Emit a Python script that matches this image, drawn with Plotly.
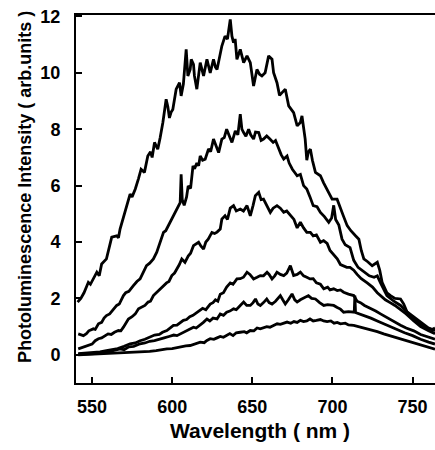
import plotly.graph_objects as go

# Curve 1 (highest)
wl1 = [541, 543, 545, 547.7, 549, 550.8, 553, 554.5, 556, 559, 561, 562.3, 565.4, 566.5, 567.5, 569.5, 571.7,
       573.75, 575, 577, 579, 580.6, 582.7, 584.8, 586.5, 587.5, 589, 591, 592.5, 594.2, 596.25, 597.3, 598.3,
       599.3, 600.4, 602.5, 604.6, 605.6, 607, 608.75, 609.8, 611.25, 611.9, 613.3, 613.9, 615.4, 617.5, 619.6,
       621.7, 623.75, 625.8, 627, 628, 629.5, 631, 633, 634.5, 636.25, 637.3, 638.3, 639.3, 640.4, 642.5, 644.6,
       646.7, 648.75, 650.8, 652.9, 654.5, 656, 658, 660.2, 662.3, 663.3, 665.4, 667, 668.5, 670.6, 672.7, 675.8,
       678, 680, 681, 683, 684, 685, 686.25, 687.5, 689.4, 692.5, 694.5, 696.7, 698, 699.8, 702.9, 705, 707,
       709.2, 711.5, 714.4, 716.5, 718, 719.6, 722, 724.8, 728, 729.5, 731, 734, 736.25, 739, 742.5, 744.5,
       746.7, 750, 753, 756, 759, 762, 764]
pl1 = [1.87, 2.0, 2.2, 2.57, 2.5, 2.69, 2.93, 2.8, 3.22, 3.4, 3.87, 4.17, 4.22, 4.15, 4.46, 4.85, 5.29,
       5.7, 5.6, 5.88, 6.25, 6.58, 6.47, 7.05, 7.2, 7.0, 7.53, 7.29, 7.7, 8.24, 9.06, 8.8, 8.4,
       8.6, 8.7, 9.42, 9.65, 9.18, 9.6, 10.83, 9.89, 10.12, 10.48, 10.3, 9.89, 9.42, 10.36, 9.89,
       10.48, 10.0, 10.48, 10.2, 10.12, 10.5, 10.95, 11.3, 11.2, 11.89, 11.3, 11.07, 11.2, 10.48, 10.83, 10.36,
       10.6, 10.36, 9.53, 10.12, 9.95, 9.89, 10.0, 10.6, 10.48, 10.0, 9.65, 9.2, 9.3, 9.42, 8.83, 8.59,
       8.12, 8.24, 8.47, 7.65, 6.9, 7.2, 7.29, 6.9, 6.47, 6.35, 6.1, 5.88, 5.7, 5.52, 5.52, 5.17, 4.9,
       4.58, 4.4, 4.22, 4.1, 3.7, 3.4, 3.3, 3.16, 3.28, 3.0, 2.57, 2.2, 2.1, 2.0, 1.98, 1.8,
       1.5, 1.3, 1.16, 1.05, 0.95, 0.9, 0.95]

# Curve 2
wl2 = [541.4, 543, 544.6, 546.5, 548, 550.8, 552, 554, 556, 557.5, 559, 561, 563, 565.4, 567, 569.6, 571, 573,
       575.8, 578, 580, 582, 584, 586, 588.3, 590.4, 592.5, 594.6, 596, 597.7, 599, 600.8, 602.5, 604, 605,
       605.6, 606.3, 607.5, 609, 610, 611.5, 613, 614, 615.4, 616.5, 617.5, 619, 620.6, 622.7, 624, 625.8,
       627.5, 629, 631, 632.5, 634, 635.5, 637.3, 639.4, 641, 642.5, 643.5, 644.6, 646, 647.7, 649, 650.8,
       652, 654, 655.5, 657, 659, 661, 663, 664.5, 666.5, 668, 669.6, 671.7, 673, 675, 678, 680, 682, 684,
       686, 688, 690.4, 692.5, 695, 697.7, 699.5, 700.8, 702, 704, 706, 708, 711, 713.3, 716, 719.6, 723,
       726, 728, 730, 734, 738.3, 742.5, 746, 750.8, 755, 760, 764]
pl2 = [0.74, 0.7, 0.68, 0.75, 0.85, 0.92, 0.9, 1.1, 1.15, 1.3, 1.39, 1.45, 1.6, 1.75, 1.8, 2.1, 2.2, 2.25,
       2.45, 2.6, 2.69, 2.9, 3.16, 3.25, 3.4, 3.64, 3.99, 4.34, 4.4, 4.58, 4.75, 4.93, 5.1, 5.25, 5.4,
       6.4, 5.5, 5.3, 5.6, 5.99, 5.9, 6.7, 6.6, 6.8, 6.7, 7.05, 6.9, 6.94, 7.3, 7.2, 7.65,
       7.4, 7.17, 7.65, 7.7, 8.0, 7.8, 7.53, 7.94, 7.8, 8.53, 8.0, 7.88, 7.75, 8.0, 7.8, 7.65,
       7.9, 7.88, 7.6, 7.65, 7.76, 7.65, 7.53, 7.6, 7.3, 7.1, 6.94, 7.05, 6.8, 6.58, 6.35, 6.4, 6.0, 5.88,
       5.6, 5.29, 5.25, 5.05, 4.9, 4.7, 4.85, 5.3, 4.8, 4.6, 4.1, 3.9, 3.8, 3.35, 3.1, 2.95, 2.8,
       2.75, 2.8, 2.55, 2.1, 1.9, 1.75, 1.55, 1.35, 1.15, 0.95, 0.85]

# Curve 3
wl3 = [541.4, 544, 547.7, 550, 552, 554, 556, 558, 560, 562, 564, 566.5, 568, 569.6, 571, 572.7, 575, 577,
       579, 581, 583, 585, 586.5, 588.3, 590, 592, 594.6, 596.5, 598, 599.8, 601.5, 603, 604.5, 606, 608,
       610, 611.5, 613.3, 615, 616.5, 618, 619.6, 621, 622.5, 624.8, 626.5, 628, 630, 631, 633, 634.5,
       636.25, 638.3, 640, 642.5, 644.5, 646.7, 648.75, 650.5, 651.9, 654, 655.5, 657, 659, 661.25, 663,
       665.4, 667.5, 669.6, 671.5, 673.75, 676, 678, 680, 682, 684, 686.25, 688, 690, 692.5, 694.5, 696.7,
       698.5, 700.8, 703, 705, 707, 709, 711, 713.3, 715.4, 718, 721.7, 725, 728, 730, 733, 736, 739,
       742.5, 746, 750.8, 755, 760, 764]
pl3 = [0.21, 0.27, 0.33, 0.38, 0.5, 0.57, 0.6, 0.68, 0.74, 0.72, 0.8, 0.86, 0.85, 0.98, 1.1, 1.27, 1.35, 1.45,
       1.63, 1.7, 1.75, 1.87, 1.9, 2.1, 2.2, 2.3, 2.45, 2.55, 2.6, 2.81, 2.9, 3.04, 3.2, 3.4, 3.28,
       3.5, 3.6, 3.87, 3.95, 3.99, 3.85, 3.75, 4.0, 4.1, 4.34, 4.3, 4.35, 4.46, 4.81, 4.93, 4.8,
       5.2, 5.29, 5.1, 5.17, 5.1, 5.29, 4.93, 5.3, 5.64, 5.76, 5.5, 5.52, 5.3, 5.05, 5.2,
       5.29, 5.2, 5.05, 5.1, 4.93, 4.8, 4.5, 4.7, 4.5, 4.34, 4.34, 4.22, 4.25, 3.99, 4.05, 3.95,
       3.7, 3.55, 3.4, 3.2, 3.15, 3.1, 3.1, 3.0, 2.85, 2.7, 2.55, 2.4, 2.2, 2.1, 1.95, 1.85, 1.75,
       1.6, 1.45, 1.2, 1.0, 0.85, 0.75]

# Curve 4
wl4 = [541.4, 545, 550, 555, 559, 563, 566, 570, 573.75, 577, 580, 583, 586.25, 589, 592, 594, 596.7, 598.5,
       600.8, 603, 605, 607, 609, 611, 613, 615.4, 617, 619, 621, 623.75, 625.5, 627, 628.5, 630, 632, 634,
       636.25, 638, 640.4, 642.5, 644.5, 646.7, 648.5, 650.8, 653, 655, 657, 659.2, 660.5, 662.3, 664,
       665.4, 667.5, 669.6, 671.5, 673.75, 675.8, 678, 680, 682, 684, 686, 688, 690, 692.5, 694.6, 697,
       698.5, 700.8, 703, 705, 707, 710, 713.3, 715.4, 717.5, 720, 723.75, 727, 730, 733, 736, 739, 742.5,
       746, 750.8, 755, 760, 764]
pl4 = [0.04, 0.05, 0.07, 0.1, 0.15, 0.2, 0.22, 0.3, 0.39, 0.42, 0.5, 0.55, 0.63, 0.7, 0.72, 0.8, 0.86, 0.95,
       1.04, 1.05, 1.15, 1.22, 1.25, 1.35, 1.4, 1.51, 1.55, 1.65, 1.6, 1.8, 1.85, 1.95, 1.9, 2.15, 2.2, 2.4,
       2.55, 2.5, 2.69, 2.7, 2.75, 2.93, 2.85, 2.69, 2.75, 2.81, 2.8, 2.93, 2.85, 2.69, 2.8,
       2.93, 2.85, 2.81, 2.9, 3.16, 2.81, 2.85, 2.93, 2.8, 2.75, 2.69, 2.7, 2.55, 2.5, 2.34, 2.4,
       2.3, 2.34, 2.28, 2.3, 2.22, 2.15, 2.1, 1.9, 1.85, 1.75, 1.65, 1.55, 1.45, 1.35, 1.25, 1.15, 1.05,
       0.95, 0.85, 0.72, 0.62, 0.55]

# Curve 5
wl5 = [541.4, 548, 555, 560, 563, 567.5, 570, 573, 576, 580, 583, 586, 589, 592.5, 595, 598, 601, 603, 605,
       607, 609, 611, 613.3, 615, 617.5, 619.5, 621.7, 623.5, 625.5, 628, 630, 632, 634, 636, 638.3, 640,
       642.5, 644.6, 646.5, 648.75, 650.5, 652, 653.5, 655, 657, 659, 660.5, 662.3, 664.5, 667.5, 669,
       670.6, 672.5, 674.8, 676.5, 678, 680, 682, 685, 687, 689.4, 692, 694.6, 697, 700.8, 703, 705, 707,
       710, 713.6, 714, 714.4, 717, 720, 724, 728, 732, 736, 740, 745, 750, 755, 760, 764]
pl5 = [0.02, 0.03, 0.05, 0.1, 0.15, 0.21, 0.18, 0.28, 0.3, 0.39, 0.42, 0.48, 0.5, 0.57, 0.6, 0.65, 0.7, 0.68, 0.74,
       0.8, 0.85, 0.9, 0.98, 0.95, 1.05, 1.15, 1.27, 1.2, 1.3, 1.27, 1.45, 1.4, 1.51, 1.55, 1.63, 1.6,
       1.75, 1.87, 1.75, 1.75, 1.85, 1.98, 1.8, 1.75, 1.85, 1.98, 1.85, 1.8, 1.9, 2.1, 1.95,
       1.8, 1.95, 2.16, 1.95, 1.87, 1.95, 2.0, 2.1, 2.0, 1.98, 1.85, 1.75, 1.78, 1.75, 1.68, 1.62, 1.51,
       1.53, 1.51, 2.1, 1.5, 1.45, 1.38, 1.3, 1.2, 1.1, 1.0, 0.9, 0.78, 0.68, 0.55, 0.45, 0.38]

# Curve 6 (lowest)
wl6 = [541.4, 550, 560, 570, 580, 586, 590, 593, 596.7, 600, 603, 606, 608.5, 611.25, 614, 616, 617.5, 620,
       621.7, 623.75, 626, 628, 630, 632, 634, 636, 638, 640, 642.5, 645, 646.5, 648.75, 651, 653, 655, 657,
       659, 661, 663.3, 665.5, 667.5, 670, 671.7, 674, 676, 678, 680, 682, 684, 686, 688, 690, 692.5, 694.5,
       696.7, 699, 701, 703, 705, 708, 710, 713.3, 716, 718.5, 721.7, 725, 728, 732, 736, 740, 745, 750,
       755, 760, 764]
pl6 = [0.0, 0.02, 0.04, 0.06, 0.09, 0.12, 0.15, 0.18, 0.21, 0.22, 0.26, 0.28, 0.32, 0.33, 0.38, 0.42, 0.45, 0.43,
       0.51, 0.57, 0.55, 0.6, 0.65, 0.62, 0.7, 0.75, 0.68, 0.78, 0.8, 0.82, 0.78, 0.86, 0.85, 0.95, 0.92, 0.95,
       1.0, 0.98, 1.04, 1.1, 1.08, 1.12, 1.16, 1.12, 1.18, 1.15, 1.22, 1.18, 1.2, 1.27, 1.2, 1.22, 1.25, 1.2,
       1.18, 1.2, 1.12, 1.15, 1.1, 1.12, 1.06, 1.04, 1.0, 0.97, 0.92, 0.86, 0.82, 0.74, 0.67, 0.6, 0.52, 0.43,
       0.35, 0.27, 0.2]

x_ticks = [550, 600, 650, 700, 750]
y_ticks = [0, 2, 4, 6, 8, 10, 12]
x_title = "Wavelength ( nm )"
y_title = "Photoluminescence Intensity ( arb.units )"

FONT = "Liberation Sans, Arial, Helvetica, sans-serif"

fig = go.Figure()
for wl, pl in [(wl1, pl1), (wl2, pl2), (wl3, pl3), (wl4, pl4), (wl5, pl5), (wl6, pl6)]:
    fig.add_trace(go.Scatter(x=wl, y=pl, mode="lines",
                             line=dict(color="black", width=2.8), showlegend=False,
                             hoverinfo="skip"))

fig.update_layout(
    template="none",
    width=435, height=450,
    margin=dict(l=76, r=0, t=15, b=67, autoexpand=False),
    plot_bgcolor="white", paper_bgcolor="white",
    font=dict(family=FONT, color="black"),
)
fig.update_xaxes(
    range=[540, 764], tickvals=x_ticks, ticktext=["<b>%d</b>" % v for v in x_ticks],
    showline=True, linecolor="black", linewidth=2, mirror=True,
    ticks="inside", ticklen=6, tickwidth=1.5, tickcolor="black",
    showgrid=False, zeroline=False, automargin=False,
    tickfont=dict(size=18, family=FONT, color="black"),
    ticklabelstandoff=6, ticklabeloverflow="allow",
)
fig.update_yaxes(
    range=[-1, 12.05], tickvals=y_ticks, ticktext=["<b>%d</b>" % v for v in y_ticks],
    showline=True, linecolor="black", linewidth=2, mirror=False,
    ticks="inside", ticklen=6, tickwidth=1.5, tickcolor="black",
    showgrid=False, zeroline=False, automargin=False,
    tickfont=dict(size=18, family=FONT, color="black"),
    ticklabelstandoff=10, ticklabeloverflow="allow",
)
fig.add_annotation(text="<b>" + y_title + "</b>", xref="paper", yref="paper", x=-0.142, y=0.533,
                   xanchor="center", yanchor="middle", textangle=-90, showarrow=False,
                   font=dict(size=18, family=FONT, color="black"))
fig.add_annotation(text="<b>" + x_title + "</b>", xref="paper", yref="paper", x=0.513, y=-0.130,
                   xanchor="center", yanchor="middle", showarrow=False,
                   font=dict(size=21, family=FONT, color="black"))

fig.write_html("out.html", config={"displayModeBar": False},
               post_script="document.body.style.margin='0';document.body.style.overflow='hidden';")
